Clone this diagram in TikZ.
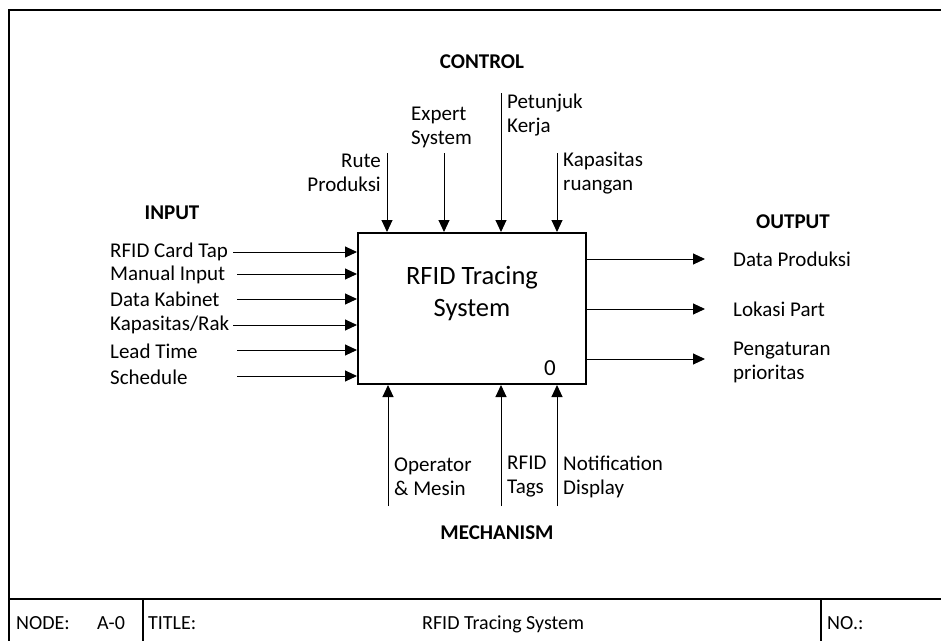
\documentclass[tikz,border=0pt]{standalone}
\usepackage{fontspec}
\setmainfont{Carlito}
\usetikzlibrary{arrows.meta}
\tikzset{
  lbl/.style={inner sep=0pt, font=\fontsize{21}{24}\selectfont},
  hdr/.style={inner sep=0pt, font=\fontsize{21}{24}\selectfont\bfseries},
  ftr/.style={inner sep=0pt, font=\fontsize{20}{23}\selectfont},
  arr/.style={line width=1pt, -{Triangle[length=12pt,width=11pt]}},
  frame/.style={line width=2pt},
}
\begin{document}
\begin{tikzpicture}[x=1pt,y=-1pt]
\useasboundingbox (0,0) rectangle (941,640);
% outer frame
\coordinate (ftl) at (9,10);
\coordinate (ftr) at (945,10);
\coordinate (fbl) at (9,645);
\coordinate (fml) at (9,599);
\coordinate (fmr) at (945,599);
\coordinate (s1t) at (143,599);
\coordinate (s1b) at (143,645);
\coordinate (s2t) at (821,599);
\coordinate (s2b) at (821,645);
\draw[frame] (fbl) -- (ftl) -- (ftr);
\draw[frame] (fml) -- (fmr);
\draw[frame] (s1t) -- (s1b);
\draw[frame] (s2t) -- (s2b);
% footer texts
\node[ftr, anchor=base west] (fnode) at (16,629) {NODE:};
\node[ftr, anchor=base west] (fa0) at (97,629) {A-0};
\node[ftr, anchor=base west] (ftitle) at (148,629) {TITLE:};
\node[ftr, anchor=base west] (fname) at (422,629) {RFID Tracing System};
\node[ftr, anchor=base west] (fno) at (827,629) {NO.:};
% main box
\node[draw, line width=2pt, minimum width=228pt, minimum height=151pt, inner sep=0pt] (box) at (472,308.5) {};
\node[inner sep=0pt, align=center, font=\fontsize{26.5}{32}\selectfont] (boxtext) at (472,294) {RFID Tracing\\System};
\node[inner sep=0pt, font=\fontsize{23}{26}\selectfont] (boxnum) at (550,368) {0};
% headers
\node[hdr] (hctl) at (482,62) {CONTROL};
\node[hdr] (hin) at (172,213) {INPUT};
\node[hdr] (hout) at (793,222) {OUTPUT};
\node[hdr] (hmech) at (497,533) {MECHANISM};
% inputs
\node[lbl, anchor=west] (i1) at (110,252) {RFID Card Tap};
\node[lbl, anchor=west] (i2) at (110,275) {Manual Input};
\node[lbl, anchor=west] (i3) at (110,299) {Data Kabinet};
\node[lbl, anchor=west] (i4) at (110,325) {Kapasitas/Rak};
\node[lbl, anchor=west] (i5) at (110,351) {Lead Time};
\node[lbl, anchor=west] (i6) at (110,377) {Schedule};
\coordinate (ia1) at (233,252);
\coordinate (ia2) at (237,274);
\coordinate (ia3) at (237,299);
\coordinate (ia4) at (233,325);
\coordinate (ia5) at (237,350);
\coordinate (ia6) at (237,376);
\foreach \c in {ia1,ia2,ia3,ia4,ia5,ia6}{
  \draw[arr] (\c) -- (\c -| box.west);
}
% controls
\node[lbl, anchor=east, align=right] (c1) at (381,173) {Rute\\Produksi};
\node[lbl, anchor=west, align=left] (c2) at (411,127) {Expert\\System};
\node[lbl, anchor=west, align=left] (c3) at (507,115) {Petunjuk\\Kerja};
\node[lbl, anchor=west, align=left] (c4) at (563,173) {Kapasitas\\ruangan};
\coordinate (ca1) at (387,153);
\coordinate (ca2) at (444,153);
\coordinate (ca3) at (501,93);
\coordinate (ca4) at (557,153);
\foreach \c in {ca1,ca2,ca3,ca4}{
  \draw[arr] (\c) -- (\c |- box.north);
}
% mechanisms
\node[lbl, anchor=west, align=left] (m1) at (394,477) {Operator\\\& Mesin};
\node[lbl, anchor=west, align=left] (m2) at (507,477) {RFID\\Tags};
\node[lbl, anchor=west, align=left] (m3) at (563,477) {Notification\\Display};
\coordinate (ma1) at (388,506);
\coordinate (ma2) at (501,506);
\coordinate (ma3) at (557,506);
\foreach \c in {ma1,ma2,ma3}{
  \draw[arr] (\c) -- (\c |- box.south);
}
% outputs
\node[lbl, anchor=west] (o1) at (733,259) {Data Produksi};
\node[lbl, anchor=west] (o2) at (733,309) {Lokasi Part};
\node[lbl, anchor=west, align=left] (o3) at (733,362) {Pengaturan\\prioritas};
\coordinate (oa1) at (705,259);
\coordinate (oa2) at (705,309);
\coordinate (oa3) at (705,359);
\foreach \c in {oa1,oa2,oa3}{
  \draw[arr] (\c -| box.east) -- (\c);
}
\end{tikzpicture}
\end{document}
